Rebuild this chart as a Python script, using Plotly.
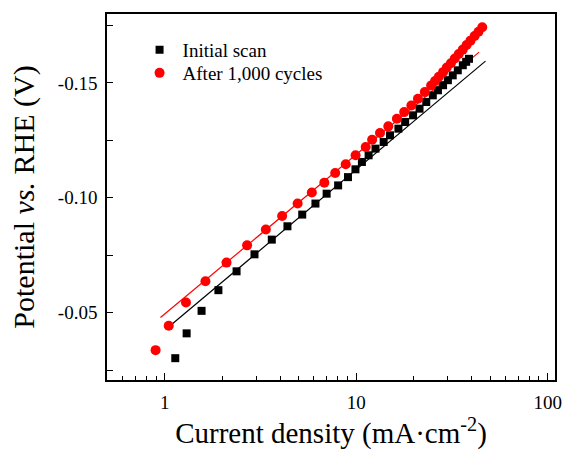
import plotly.graph_objects as go

# Initial scan (black squares)
init_j = [1.134, 1.30, 1.556, 1.905, 2.37, 2.94, 3.62, 4.37, 5.22, 6.12, 7.0, 8.04,
          9.05, 9.9, 10.7, 11.6, 12.6, 13.9, 15.0, 16.6, 18.0, 19.8, 21.4, 23.2,
          25.1, 26.7, 28.4, 30.1, 31.9, 33.9, 36.0, 37.5, 38.8]
init_e = [-0.0302, -0.041, -0.0508, -0.0598, -0.068, -0.0754, -0.0818, -0.0876,
          -0.0927, -0.0975, -0.1018, -0.1054, -0.109, -0.1124, -0.1156, -0.1185,
          -0.1214, -0.1243, -0.1272, -0.1301, -0.133, -0.1359, -0.1388, -0.1417,
          -0.1446, -0.1468, -0.149, -0.1512, -0.1533, -0.1555, -0.1577, -0.1592,
          -0.1605]

# After 1,000 cycles (red circles)
after_j = [0.895, 1.048, 1.29, 1.63, 2.10, 2.69, 3.37, 4.10, 4.94, 5.86, 6.81, 7.76,
           8.81, 9.92, 11.2, 12.1, 13.3, 14.7, 16.3, 17.8, 19.4, 21.0, 22.8, 24.6,
           25.8, 27.0, 28.4, 29.7, 31.2, 32.7, 34.3, 36.0, 37.7, 39.5, 41.5, 43.5, 45.5]
after_e = [-0.0337, -0.0443, -0.0544, -0.0637, -0.0718, -0.0793, -0.0862, -0.0921,
           -0.0975, -0.1023, -0.1066, -0.1108, -0.1146, -0.1185, -0.1221, -0.1253,
           -0.1282, -0.1311, -0.1344, -0.1373, -0.1402, -0.1431, -0.146, -0.1489,
           -0.1508, -0.1527, -0.1547, -0.1567, -0.1586, -0.1606, -0.1626, -0.1645,
           -0.1665, -0.1684, -0.1704, -0.1723, -0.1742]

# Tafel fit lines (end points)
fit_init_j = [1.10, 47.3]
fit_init_e = [-0.0453, -0.1595]
fit_after_j = [0.949, 43.8]
fit_after_e = [-0.0479, -0.1634]

y_tickvals = [-0.05, -0.10, -0.15]
y_ticktext = ["-0.05", "-0.10", "-0.15"]
x_tickvals = [1, 10, 100]
x_ticktext = ["1", "10", "100"]

FONT = "Liberation Serif"

fig = go.Figure()
fig.add_trace(go.Scatter(x=fit_init_j, y=fit_init_e, mode="lines",
                         line=dict(color="black", width=1.2), showlegend=False,
                         hoverinfo="skip"))
fig.add_trace(go.Scatter(x=fit_after_j, y=fit_after_e, mode="lines",
                         line=dict(color="#ff0000", width=1.2), showlegend=False,
                         hoverinfo="skip"))
fig.add_trace(go.Scatter(x=init_j, y=init_e, mode="markers", name="Initial scan",
                         legend="legend",
                         marker=dict(symbol="square", size=8, color="black")))
fig.add_trace(go.Scatter(x=after_j, y=after_e, mode="markers", name="After 1,000 cycles",
                         legend="legend2",
                         marker=dict(symbol="circle", size=10, color="#ff0000")))

leg_common = dict(xanchor="left", yanchor="middle", bgcolor="rgba(0,0,0,0)",
                  font=dict(family=FONT, size=19, color="black"), itemwidth=36,
                  borderwidth=0)

fig.update_layout(
    width=571, height=452,
    margin=dict(l=107, r=9, t=14, b=72),
    paper_bgcolor="white", plot_bgcolor="white",
    font=dict(family=FONT, size=19, color="black"),
    showlegend=True,
    legend=dict(x=0.066, y=0.9016, **leg_common),
    legend2=dict(x=0.066, y=0.8388, **leg_common),
)
fig.update_xaxes(
    type="log", range=[-0.302, 2.038],
    tickvals=x_tickvals, ticktext=x_ticktext,
    ticks="inside", ticklen=7, tickwidth=1.2, tickcolor="black",
    ticklabelstandoff=4,
    minor=dict(ticks="inside", ticklen=4, tickwidth=1, tickcolor="black", dtick="D1",
               showgrid=False),
    showline=True, linecolor="black", linewidth=1.5, mirror=True,
    showgrid=False, zeroline=False,
    title=dict(text="Current density (mA·cm<sup>-2</sup>)",
               font=dict(family=FONT, size=29), standoff=6),
)
fig.update_yaxes(
    range=[-0.0207, -0.180],
    tickvals=y_tickvals, ticktext=y_ticktext,
    ticks="inside", ticklen=6, tickwidth=1.2, tickcolor="black",
    ticklabelstandoff=4,
    minor=dict(ticks="inside", ticklen=6, tickwidth=1.2, tickcolor="black",
               tickvals=[-0.025, -0.075, -0.125, -0.175], showgrid=False),
    showline=True, linecolor="black", linewidth=1.5, mirror=True,
    showgrid=False, zeroline=False,
    title=dict(text="Potential <i>vs.</i> RHE (V)",
               font=dict(family=FONT, size=30), standoff=14),
)

fig.write_html("out.html")
